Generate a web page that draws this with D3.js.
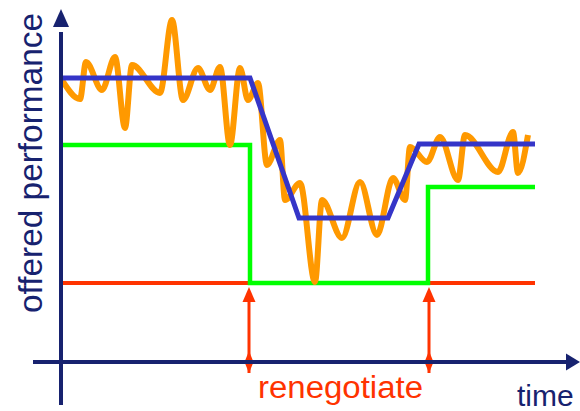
<!DOCTYPE html>
<html>
<head>
<meta charset="utf-8">
<script src="https://cdn.jsdelivr.net/npm/d3@7"></script>
<style>
  html, body { margin: 0; padding: 0; background: #fff; }
  svg { display: block; font-family: "Liberation Sans", Arial, sans-serif; }
</style>
</head>
<body>
<div id="chart"></div>
<script>
// offered performance over time (arbitrary units)
const wiggleT = [0, 18, 24, 40, 53, 63, 70, 98, 110, 121, 136, 148, 158, 168, 178, 186, 196, 205, 218, 223,
  238, 253, 260, 280, 298, 315, 331, 343, 348, 365, 378, 396, 403, 436, 451, 456, 466];
const wiggleV = [282, 263, 300, 272, 305, 234, 297, 269, 342, 262, 294, 272, 295, 217, 294, 262, 279, 197, 222, 162,
  179, 80, 162, 124, 180, 127, 184, 162, 215, 200, 225, 182, 227, 190, 230, 189, 227];
const targetT = [0, 188, 237, 326, 357, 473];
const targetV = [284, 284, 144, 144, 218, 218];
const grantT = [0, 188, 366, 473];
const grantV = [217, 79, 175, 175];
const floorV = 79;
const renegotiateT = [187, 367];

var width = 580, height = 411;
var navy = "#17226f";

var x = d3.scaleLinear().domain([0, 473]).range([62, 535]);
var y = d3.scaleLinear().domain([0, 342]).range([362, 20]);

var svg = d3.select("#chart").append("svg")
    .attr("width", width)
    .attr("height", height);

var line = d3.line().x(d => x(d[0])).y(d => y(d[1]));

// floor level
svg.append("path")
  .attr("fill", "none")
  .attr("stroke", "#ff3300")
  .attr("stroke-width", 4)
  .attr("d", line([[0, floorV], [473, floorV]]));

// granted level
svg.append("path")
  .attr("fill", "none")
  .attr("stroke", "#00ff00")
  .attr("stroke-width", 4.5)
  .attr("d", line.curve(d3.curveStepAfter)(grantT.map((t, i) => [t, grantV[i]])));

// actual performance
svg.append("path")
  .attr("fill", "none")
  .attr("stroke", "#ff9900")
  .attr("stroke-width", 6)
  .attr("stroke-linejoin", "round")
  .attr("d", line.curve(d3.curveMonotoneX)(wiggleT.map((t, i) => [t, wiggleV[i]])));

// offered level
svg.append("path")
  .attr("fill", "none")
  .attr("stroke", "#3535c8")
  .attr("stroke-width", 5)
  .attr("d", line.curve(d3.curveLinear)(targetT.map((t, i) => [t, targetV[i]])));

// renegotiate arrows
var arrows = svg.append("g").attr("fill", "#ff3300");
renegotiateT.forEach(function(t) {
  var cx = x(t);
  arrows.append("line")
    .attr("x1", cx).attr("x2", cx)
    .attr("y1", y(-11)).attr("y2", y(65))
    .attr("stroke", "#ff3300")
    .attr("stroke-width", 3);
  arrows.append("path")
    .attr("d", "M" + cx + "," + y(75) + "L" + (cx - 6.5) + "," + y(60) + "L" + (cx + 6.5) + "," + y(60) + "Z");
  arrows.append("path")
    .attr("d", "M" + cx + "," + y(11) + "L" + (cx + 4.5) + "," + y(0) + "L" + cx + "," + y(-11) + "L" + (cx - 4.5) + "," + y(0) + "Z");
});

// axes
var axes = svg.append("g");
axes.append("line")
  .attr("x1", x(-29)).attr("x2", x(506))
  .attr("y1", y(0)).attr("y2", y(0))
  .attr("stroke", navy).attr("stroke-width", 4);
axes.append("path")
  .attr("fill", navy)
  .attr("d", "M" + x(518) + "," + y(0) + "L" + x(504) + "," + (y(0) - 8.5) + "L" + x(504) + "," + (y(0) + 8.5) + "Z");
axes.append("line")
  .attr("x1", x(-1)).attr("x2", x(-1))
  .attr("y1", y(-43)).attr("y2", y(330))
  .attr("stroke", navy).attr("stroke-width", 4);
axes.append("path")
  .attr("fill", navy)
  .attr("d", "M" + x(-1) + "," + y(353) + "L" + (x(-1) - 8) + "," + y(335) + "L" + (x(-1) + 8) + "," + y(335) + "Z");

// labels
svg.append("text")
  .attr("transform", "translate(42,163) rotate(-90)")
  .attr("text-anchor", "middle")
  .attr("font-size", 34)
  .attr("fill", navy)
  .attr("textLength", 300)
  .attr("lengthAdjust", "spacingAndGlyphs")
  .text("offered performance");

svg.append("text")
  .attr("x", 258).attr("y", 398)
  .attr("font-size", 31)
  .attr("fill", "#ff3300")
  .attr("textLength", 165)
  .attr("lengthAdjust", "spacingAndGlyphs")
  .text("renegotiate");

svg.append("text")
  .attr("x", 517).attr("y", 406)
  .attr("font-size", 30)
  .attr("fill", navy)
  .text("time");
</script>
</body>
</html>
